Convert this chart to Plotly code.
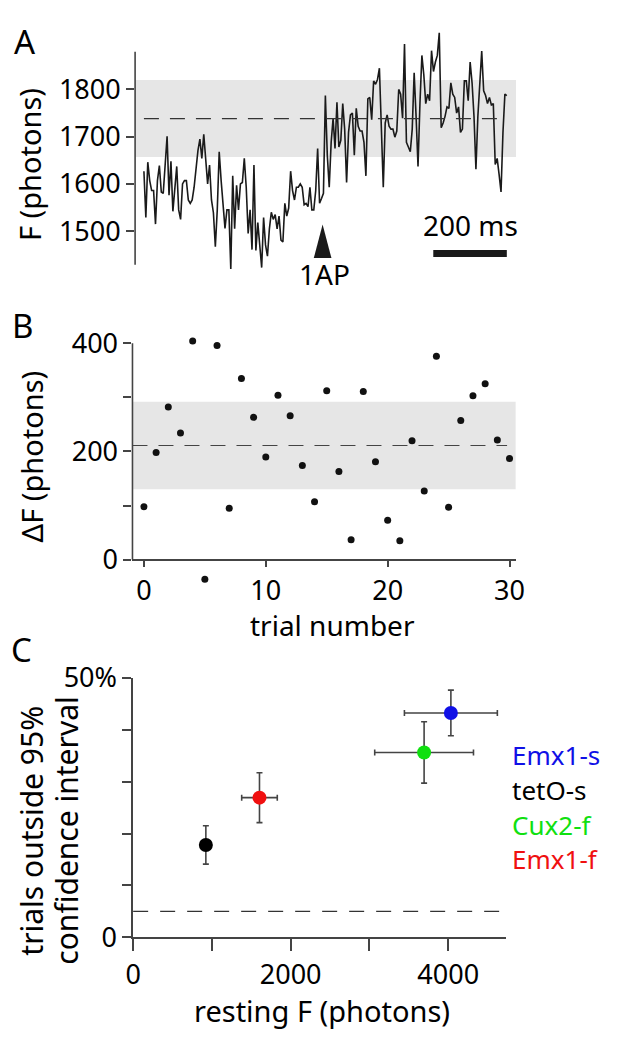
import numpy as np
import plotly.graph_objects as go

W, H = 617, 1048

# ---- data -------------------------------------------------------------
# Panel A: single-trial fluorescence trace (photons), sampled every dt ms
dt = 5.25
f_trace = [1627, 1529, 1646, 1607, 1586, 1586, 1515, 1607, 1639, 1583,
           1580, 1637, 1701, 1576, 1648, 1542, 1600, 1637, 1545, 1525,
           1600, 1607, 1607, 1566, 1559, 1566, 1593, 1634, 1671, 1695,
           1654, 1705, 1640, 1600, 1640, 1566, 1539, 1467, 1545, 1668,
           1607, 1545, 1506, 1545, 1545, 1420, 1617, 1505, 1597, 1545,
           1600, 1603, 1654, 1593, 1495, 1545, 1461, 1640, 1459, 1518,
           1471, 1423, 1529, 1471, 1447, 1505, 1540, 1525, 1535, 1505,
           1532, 1481, 1477, 1559, 1532, 1549, 1627, 1586, 1566, 1593,
           1593, 1600, 1593, 1556, 1559, 1552, 1593, 1545, 1545, 1586,
           1675, 1559, 1569, 1580, 1787, 1661, 1593, 1688, 1739, 1675,
           1773, 1678, 1692, 1770, 1716, 1603, 1709, 1746, 1750, 1661,
           1760, 1722, 1712, 1712, 1688, 1617, 1780, 1783, 1736, 1818,
           1811, 1821, 1845, 1709, 1593, 1729, 1746, 1722, 1716, 1716,
           1699, 1712, 1800, 1790, 1739, 1896, 1688, 1678, 1668, 1716,
           1835, 1743, 1637, 1770, 1872, 1831, 1770, 1790, 1776, 1882,
           1838, 1858, 1872, 1920, 1719, 1729, 1743, 1763, 1760, 1814,
           1790, 1783, 1750, 1763, 1709, 1716, 1818, 1818, 1776, 1858,
           1814, 1743, 1631, 1743, 1828, 1881, 1797, 1787, 1770, 1783,
           1767, 1770, 1641, 1654, 1620, 1583, 1709, 1790, 1787]
a_mean, a_lo, a_hi = 1738, 1657, 1820
stim_t = 486          # ms, time of the 1AP stimulus
scalebar_ms = 200

# Panel B: response amplitude per trial
trials = list(range(31))
dF = [98, 198, 282, 234, 404, -36, 396, 95, 335, 263,
      190, 304, 266, 174, 107, 312, 163, 37, 311, 181,
      73, 35, 220, 127, 376, 97, 257, 303, 325, 221, 187]
b_mean, b_lo, b_hi = 211, 130, 292

# Panel C: fraction of trials outside 95% CI vs resting F
lines = ["Emx1-s", "tetO-s", "Cux2-f", "Emx1-f"]
colors = ["#1010e6", "#000000", "#10e010", "#f01010"]
rest_F = [4034, 923, 3694, 1604]
rest_F_err = [590, 60, 627, 226]
frac_out = [43.2, 17.8, 35.6, 26.9]
frac_err = [4.4, 3.7, 5.9, 4.8]
chance = 5

# ---- helpers ----------------------------------------------------------
def px(x):
    return x / W

def py(y):
    return 1 - y / H

FONT = "Noto Sans"
TICK = 27
TITLE = 29
AX = "#444444"
BAND = "#e6e6e6"

t = np.arange(len(f_trace)) * dt

fig = go.Figure()

# A: trace
fig.add_trace(go.Scatter(x=t, y=f_trace, mode="lines",
                         line=dict(color="#1a1a1a", width=1.6),
                         xaxis="x", yaxis="y", hoverinfo="skip"))
# B: trial dots
fig.add_trace(go.Scatter(x=trials, y=dF, mode="markers",
                         marker=dict(color="#111111", size=7),
                         xaxis="x2", yaxis="y2", cliponaxis=False))
# C: summary points with error bars
fig.add_trace(go.Scatter(
    x=rest_F, y=frac_out, mode="markers",
    marker=dict(color=colors, size=14),
    error_x=dict(type="data", array=rest_F_err, color=AX, thickness=1.6, width=3),
    error_y=dict(type="data", array=frac_err, color=AX, thickness=1.6, width=3),
    xaxis="x3", yaxis="y3", cliponaxis=False))

shapes = []
# A band, mean, axis line, arrow, scale bar
shapes.append(dict(type="rect", xref="x domain", yref="y", x0=0, x1=1,
                   y0=a_lo, y1=a_hi, fillcolor=BAND, line_width=0, layer="below"))
shapes.append(dict(type="line", xref="x", yref="y", x0=t[0], x1=t[-1],
                   y0=a_mean, y1=a_mean, line=dict(color="#333", width=1.2, dash="15px,11px")))
shapes.append(dict(type="line", xref="x domain", yref="y", x0=0, x1=0,
                   y0=1429, y1=1880, line=dict(color=AX, width=1.6)))
shapes.append(dict(type="path", xref="x", yref="y",
                   path=f"M {stim_t - 24},1443 L {stim_t + 24},1443 L {stim_t},1514 Z",
                   fillcolor="#1a1a1a", line_width=0))
sb1 = t[-1]
sb0 = sb1 - scalebar_ms
shapes.append(dict(type="line", xref="x", yref="y", x0=sb0, x1=sb1,
                   y0=1453, y1=1453, line=dict(color="#1a1a1a", width=7)))

# B band, mean, y axis line
shapes.append(dict(type="rect", xref="x2 domain", yref="y2", x0=0, x1=1,
                   y0=b_lo, y1=b_hi, fillcolor=BAND, line_width=0, layer="below"))
shapes.append(dict(type="line", xref="x2", yref="y2", x0=-0.94, x1=29.8,
                   y0=b_mean, y1=b_mean, line=dict(color="#444", width=1.2, dash="15px,11px")))
shapes.append(dict(type="line", xref="x2 domain", yref="y2", x0=0, x1=0,
                   y0=0, y1=400, line=dict(color=AX, width=1.6)))

# C chance line
shapes.append(dict(type="line", xref="x3 domain", yref="y3", x0=0, x1=1,
                   y0=chance, y1=chance, line=dict(color="#333", width=1.2, dash="15px,12px")))

ann = []

def text(s, x, y, size=TITLE, color="black", angle=0, xanchor="center"):
    ann.append(dict(text=s, x=px(x), y=py(y), xref="paper", yref="paper",
                    showarrow=False, textangle=angle, xanchor=xanchor, yanchor="middle",
                    font=dict(family=FONT, size=size, color=color)))

text("A", 17, 22, size=33)
text("B", 15, 317, size=33)
text("C", 14, 653, size=33)
text("F (photons)", 22, 150, angle=-90)
text("1AP", 325, 263, size=28)
text("200 ms", 476, 213, size=28)
text("ΔF (photons)", 24, 452, angle=-90)
text("trial number", 334, 627, size=28)
text("trials outside 95%", 24, 840, size=30, angle=-90)
text("confidence interval", 60, 840, size=30, angle=-90)
text("resting F (photons)", 323, 1027)
for i, (name, c) in enumerate(zip(lines, colors)):
    text(name, 516, [762, 798, 834, 870][i], size=26, color=c, xanchor="left")

tickfont = dict(family=FONT, size=TICK, color="black")
common = dict(showgrid=False, zeroline=False, ticks="outside", tickcolor=AX,
              tickwidth=1.6, tickfont=tickfont, linecolor=AX, linewidth=1.6)

fig.update_layout(
    width=W, height=H, margin=dict(l=0, r=0, t=0, b=0),
    paper_bgcolor="white", plot_bgcolor="white", showlegend=False,
    font=dict(family=FONT),
    shapes=shapes, annotations=ann,
    xaxis=dict(domain=[px(130.7), px(522.4)], range=[-24, 1012], visible=False,
               anchor="y"),
    yaxis=dict(domain=[py(262), py(8)], range=[1412, 1930.6], anchor="x",
               tickvals=[1500, 1600, 1700, 1800], ticklen=8, showline=False, **common),
    xaxis2=dict(domain=[px(128), px(522)], range=[-0.94, 30.5], anchor="free",
                position=py(559.3), tickvals=[0, 10, 20, 30], ticklen=7,
                showline=True, **common),
    yaxis2=dict(domain=[py(585), py(330)], range=[-45.5, 409], anchor="x2",
                tickvals=[0, 100, 200, 300, 400], ticktext=["0", "", "200", "", "400"],
                ticklen=8, showline=False, **common),
    xaxis3=dict(domain=[px(128.7), px(511.8)], range=[0, 4730], anchor="y3",
                tickvals=[0, 1000, 2000, 3000, 4000],
                ticktext=["0", "", "2000", "", "4000"], ticklen=12,
                showline=True, **common),
    yaxis3=dict(domain=[py(951), py(681.7)], range=[0, 50], anchor="x3",
                tickvals=[0, 10, 20, 30, 40, 50], ticktext=["0", "", "", "", "", "50%"],
                ticklen=9, showline=True, **common),
)

fig.write_html("out.html", config={"displayModeBar": False},
               post_script="document.body.style.margin='0px';")
